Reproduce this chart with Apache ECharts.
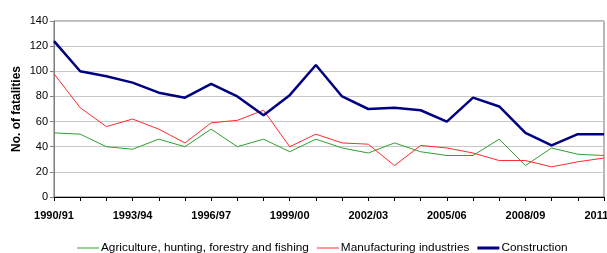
<!DOCTYPE html>
<html>
<head>
<meta charset="utf-8">
<script src="https://cdn.jsdelivr.net/npm/echarts@6/dist/echarts.min.js"></script>
<style>
  html, body { margin: 0; padding: 0; background: #fff; }
  #chart { width: 607px; height: 253px; }
</style>
</head>
<body>
<div id="chart"></div>
<script>
// years of the survey, one point per year
const years = [
  '1990/91', '1991/92', '1992/93', '1993/94', '1994/95', '1995/96', '1996/97', '1997/98',
  '1998/99', '1999/00', '2000/01', '2001/02', '2002/03', '2003/04', '2004/05', '2005/06',
  '2006/07', '2007/08', '2008/09', '2009/10', '2010/11', '2011/12'
];

// fatalities per sector
const agriculture = [51, 50, 40, 38, 46, 40, 54, 40, 46, 36, 46, 39, 35, 43, 36, 33, 33, 46, 25, 39, 34, 33];
const manufacturing = [98, 71, 56, 62, 54, 43, 59, 61, 69, 40, 50, 43, 42, 25, 41, 39, 35, 29, 29, 24, 28, 31];
const construction = [124, 100, 96, 91, 83, 79, 90, 80, 65, 81, 105, 80, 70, 71, 69, 60, 79, 72, 51, 41, 50, 50];

const yTicks = { min: 0, max: 140, step: 20 };

const chart = echarts.init(document.getElementById('chart'));

const font = 'Liberation Sans, Arial, sans-serif';

function serie(name, data, color, width) {
  return {
    name: name,
    type: 'line',
    data: data,
    symbol: 'none',
    animation: false,
    lineStyle: { color: color, width: width },
    itemStyle: { color: color }
  };
}

// plain line marks for the legend (thin for the two light series, thick for construction)
const thinIcon = 'path://M0,0H22V1H0Z';
const thickIcon = 'path://M0,0H22V3H0Z';

chart.setOption({
  backgroundColor: '#fff',
  animation: false,
  textStyle: { fontFamily: font },
  grid: {
    left: 54, right: 3, top: 21, bottom: 56,
    outerBoundsMode: 'none',
    show: true,
    borderColor: '#707070',
    borderWidth: 1,
    backgroundColor: 'transparent'
  },
  legend: {
    left: 77,
    top: 242,
    itemWidth: 22,
    itemHeight: 12,
    itemGap: 8,
    padding: 0,
    symbolKeepAspect: true,
    textStyle: { fontFamily: font, fontSize: 11.8, color: '#000', padding: [0, 0, 0, -3] },
    data: [
      { name: 'Agriculture, hunting, forestry and fishing', icon: thinIcon },
      { name: 'Manufacturing industries', icon: thinIcon },
      { name: 'Construction', icon: thickIcon }
    ]
  },
  xAxis: {
    type: 'category',
    data: years,
    boundaryGap: false,
    axisLine: { lineStyle: { color: '#000', width: 1 } },
    axisTick: { show: true, interval: 0, length: 4, lineStyle: { color: '#000' } },
    axisLabel: {
      interval: 2,
      fontFamily: font,
      fontSize: 11,
      fontWeight: 'bold',
      color: '#000',
      margin: 13,
      showMaxLabel: true,
      hideOverlap: false
    },
    splitLine: { show: false }
  },
  yAxis: {
    type: 'value',
    min: yTicks.min,
    max: yTicks.max,
    interval: yTicks.step,
    name: 'No. of fatalities',
    nameLocation: 'middle',
    nameGap: 31,
    nameMoveOverlap: false,
    nameTextStyle: { fontFamily: font, fontSize: 12, fontWeight: 'bold', color: '#000' },
    axisLine: { show: true, lineStyle: { color: '#808080', width: 1 } },
    axisTick: { show: true, length: 4, lineStyle: { color: '#808080' } },
    axisLabel: { fontFamily: font, fontSize: 11, color: '#000', margin: 6 },
    splitLine: { show: true, lineStyle: { color: '#c8c8c8', width: 1 } }
  },
  series: [
    serie('Agriculture, hunting, forestry and fishing', agriculture, '#2fa02f', 1),
    serie('Manufacturing industries', manufacturing, '#ff2a2a', 1),
    serie('Construction', construction, '#000080', 2.5)
  ]
});
</script>
</body>
</html>
